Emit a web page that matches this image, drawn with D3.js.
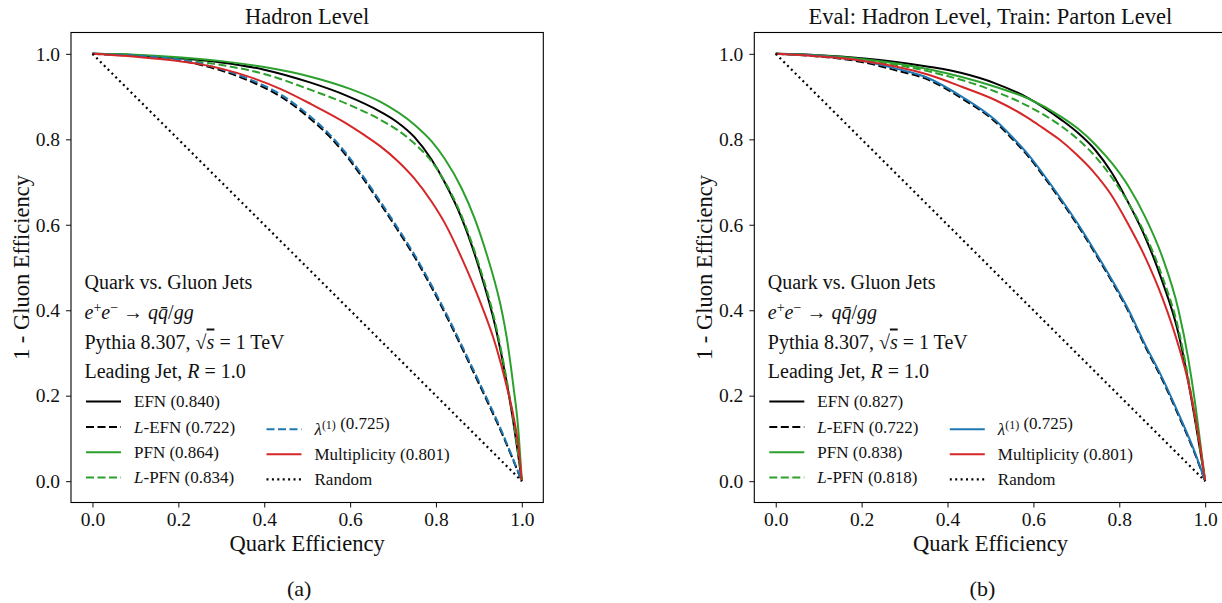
<!DOCTYPE html>
<html>
<head>
<meta charset="utf-8">
<script src="https://cdn.jsdelivr.net/npm/d3@7"></script>
<style>
body { margin: 0; background: #fff; }
svg text { font-family: "Liberation Serif", serif; fill: #111; }
</style>
</head>
<body>
<script>
// ---- data ----
var effTicks = [0, 0.2, 0.4, 0.6, 0.8, 1.0];
var modelNames = ["EFN", "L-EFN", "PFN", "L-PFN", "lambda", "Multiplicity", "Random"];
var aucHadron = [0.840, 0.722, 0.864, 0.834, 0.725, 0.801];
var aucParton = [0.827, 0.722, 0.838, 0.818, 0.725, 0.801];
var infoLines = ["Quark vs. Gluon Jets", "eeqqgg", "Pythia 8.307, sqrt s = 1 TeV", "Leading Jet, R = 1.0"];

// (a) hadron level: [quark eff, 1 - gluon eff]
var hadEFN = [[0,1],[0.1,0.997],[0.2,0.990],[0.3,0.980],[0.4,0.963],[0.51,0.932],[0.59,0.903],[0.67,0.865],[0.71,0.840],[0.75,0.805],[0.79,0.752],[0.82,0.700],[0.86,0.615],[0.9,0.500],[0.94,0.355],[0.964,0.235],[0.98,0.140],[0.991,0.065],[1,0]];
var hadLEFN = [[0,1],[0.1,0.995],[0.2,0.985],[0.28,0.967],[0.36,0.939],[0.44,0.899],[0.51,0.846],[0.55,0.809],[0.59,0.763],[0.63,0.709],[0.67,0.650],[0.71,0.589],[0.75,0.525],[0.79,0.453],[0.83,0.375],[0.87,0.292],[0.91,0.207],[0.95,0.120],[1,0]];
var hadPFN = [[0,1],[0.1,0.998],[0.2,0.992],[0.3,0.983],[0.4,0.969],[0.51,0.946],[0.6,0.918],[0.67,0.888],[0.75,0.834],[0.79,0.795],[0.82,0.755],[0.86,0.685],[0.89,0.615],[0.92,0.525],[0.94,0.455],[0.953,0.400],[0.965,0.335],[0.98,0.225],[0.991,0.130],[1,0]];
var hadLPFN = [[0,1],[0.1,0.996],[0.2,0.987],[0.3,0.974],[0.4,0.953],[0.51,0.915],[0.59,0.884],[0.67,0.846],[0.71,0.822],[0.75,0.790],[0.79,0.748],[0.82,0.702],[0.86,0.620],[0.9,0.507],[0.94,0.362],[0.964,0.241],[0.98,0.145],[0.991,0.068],[1,0]];
var hadLam = [[0,1],[0.1,0.996],[0.2,0.987],[0.28,0.970],[0.36,0.943],[0.44,0.904],[0.51,0.851],[0.55,0.814],[0.59,0.768],[0.63,0.714],[0.67,0.655],[0.71,0.594],[0.75,0.530],[0.79,0.458],[0.83,0.380],[0.87,0.297],[0.91,0.212],[0.95,0.124],[1,0]];
var hadMult = [[0,1],[0.1,0.993],[0.2,0.983],[0.25,0.976],[0.36,0.948],[0.44,0.917],[0.51,0.882],[0.59,0.838],[0.63,0.812],[0.67,0.784],[0.71,0.750],[0.75,0.708],[0.79,0.654],[0.82,0.605],[0.86,0.522],[0.9,0.427],[0.94,0.315],[0.964,0.225],[0.98,0.155],[0.991,0.090],[1,0]];

// (b) evaluated on hadron level, trained on parton level
var parEFN = [[0,1],[0.1,0.997],[0.2,0.990],[0.356,0.970],[0.433,0.955],[0.511,0.931],[0.589,0.896],[0.666,0.845],[0.705,0.814],[0.744,0.775],[0.783,0.721],[0.822,0.650],[0.86,0.572],[0.899,0.471],[0.938,0.345],[0.961,0.232],[0.977,0.140],[0.989,0.068],[1,0]];
var parLEFN = [[0,1],[0.1,0.994],[0.2,0.981],[0.278,0.962],[0.356,0.939],[0.433,0.896],[0.511,0.841],[0.55,0.802],[0.589,0.759],[0.627,0.709],[0.666,0.654],[0.705,0.596],[0.744,0.533],[0.783,0.467],[0.822,0.396],[0.86,0.316],[0.899,0.240],[0.938,0.154],[0.977,0.062],[1,0]];
var parPFN = [[0,1],[0.1,0.996],[0.2,0.988],[0.356,0.964],[0.511,0.923],[0.589,0.895],[0.666,0.852],[0.705,0.824],[0.744,0.788],[0.783,0.744],[0.822,0.689],[0.86,0.619],[0.899,0.528],[0.938,0.400],[0.961,0.285],[0.977,0.180],[0.988,0.095],[1,0]];
var parLPFN = [[0,1],[0.1,0.996],[0.2,0.986],[0.356,0.959],[0.511,0.912],[0.589,0.877],[0.666,0.830],[0.705,0.799],[0.744,0.760],[0.783,0.710],[0.822,0.650],[0.86,0.578],[0.899,0.482],[0.938,0.355],[0.961,0.240],[0.977,0.145],[0.989,0.070],[1,0]];
var parLam = [[0,1],[0.1,0.995],[0.2,0.984],[0.278,0.966],[0.356,0.943],[0.433,0.900],[0.511,0.845],[0.55,0.806],[0.589,0.763],[0.627,0.713],[0.666,0.658],[0.705,0.600],[0.744,0.537],[0.783,0.471],[0.822,0.400],[0.86,0.320],[0.899,0.244],[0.938,0.158],[0.977,0.065],[1,0]];
var parMult = [[0,1],[0.1,0.994],[0.2,0.984],[0.356,0.951],[0.433,0.923],[0.511,0.892],[0.589,0.849],[0.62,0.828],[0.66,0.800],[0.70,0.765],[0.74,0.724],[0.78,0.672],[0.82,0.603],[0.86,0.525],[0.9,0.430],[0.94,0.310],[0.96,0.235],[0.977,0.151],[0.988,0.085],[1,0]];
var randomLine = [[0,1],[1,0]];

// ---- look ----
var BLACK = "#000", GREEN = "#2ca02c", BLUE = "#1f77b4", RED = "#d62728";
var DASH = "8,3.5", DOT = "2,3.4";

var svg = d3.select("body").append("svg")
    .attr("width", 1222).attr("height", 603);

var panels = [
  { left: 71, title: "Hadron Level", caption: "(a)", auc: aucHadron,
    curves: [hadEFN, hadLEFN, hadPFN, hadLPFN, hadLam, hadMult, randomLine], lamDash: DASH },
  { left: 754.3, title: "Eval: Hadron Level, Train: Parton Level", caption: "(b)", auc: aucParton,
    curves: [parEFN, parLEFN, parPFN, parLPFN, parLam, parMult, randomLine], lamDash: null }
];

var plotTop = 32.5, pw = 472.3, ph = 470;

function addLabel(t, i, auc) {
  // legend text with the math bits in italics
  var name = modelNames[i];
  if (name == "L-EFN" || name == "L-PFN") {
    t.append("tspan").style("font-style", "italic").text("L");
    t.append("tspan").text(name.slice(1));
  } else if (name == "lambda") {
    t.append("tspan").style("font-style", "italic").text("\u03bb");
    t.append("tspan").attr("dy", -6).style("font-size", "12px").text("(1)");
    t.append("tspan").attr("dy", 6).text("");
  } else {
    t.append("tspan").text(name);
  }
  if (auc != null) t.append("tspan").text(" (" + auc.toFixed(3) + ")");
}

panels.forEach(function(p) {
  var g = svg.append("g").attr("transform", "translate(" + p.left + "," + plotTop + ")");
  var x = d3.scaleLinear().domain([-0.05, 1.05]).range([0, pw]);
  var y = d3.scaleLinear().domain([-0.05, 1.05]).range([ph, 0]);

  // axes
  var xa = g.append("g").attr("transform", "translate(0," + ph + ")")
    .call(d3.axisBottom(x).tickValues(effTicks).tickFormat(d3.format(".1f"))
      .tickSize(5).tickSizeOuter(0).tickPadding(4.6));
  var ya = g.append("g")
    .call(d3.axisLeft(y).tickValues(effTicks).tickFormat(d3.format(".1f"))
      .tickSize(5).tickSizeOuter(0).tickPadding(6));
  [xa, ya].forEach(function(a) {
    a.select(".domain").remove();
    a.selectAll("line").attr("stroke", "#222").attr("stroke-width", 1.1);
    a.selectAll("text").style("font-family", "Liberation Serif").style("font-size", "19.5px").attr("fill", "#111");
  });

  // curves
  var line = d3.line().x(function(d) { return x(d[0]); }).y(function(d) { return y(d[1]); })
    .curve(d3.curveMonotoneX);
  var styles = [
    [BLACK, null], [BLACK, DASH], [GREEN, null], [GREEN, DASH],
    [BLUE, p.lamDash], [RED, null], [BLACK, DOT]
  ];
  p.curves.forEach(function(c, i) {
    g.append("path").datum(c).attr("d", line)
      .attr("fill", "none")
      .attr("stroke", styles[i][0])
      .attr("stroke-width", i == 6 ? 2.2 : 2)
      .attr("stroke-dasharray", styles[i][1]);
  });

  // frame
  g.append("rect").attr("width", pw).attr("height", ph)
    .attr("fill", "none").attr("stroke", "#000").attr("stroke-width", 1.1);

  // titles and labels
  g.append("text").attr("x", pw / 2).attr("y", 24 - plotTop).attr("text-anchor", "middle")
    .style("font-size", "22.5px").text(p.title);
  g.append("text").attr("x", pw / 2).attr("y", 551 - plotTop).attr("text-anchor", "middle")
    .style("font-size", "22.5px").text("Quark Efficiency");
  svg.append("text").attr("transform", "translate(" + (p.left - 42.5) + ",267.5) rotate(-90)")
    .attr("text-anchor", "middle").style("font-size", "22.5px").text("1 - Gluon Efficiency");
  svg.append("text").attr("x", p.left + pw / 2 - 8).attr("y", 596).attr("text-anchor", "middle")
    .style("font-size", "22px").text(p.caption);

  // info block
  var info = g.append("g").attr("transform", "translate(13.5,0)").style("font-size", "20px");
  var base = [289, 319.3, 348.5, 378.3];
  info.append("text").attr("y", base[0] - plotTop).text(infoLines[0]);
  var t2 = info.append("text").attr("y", base[1] - plotTop);
  t2.append("tspan").style("font-style", "italic").text("e");
  t2.append("tspan").attr("dy", -7).style("font-size", "14px").text("+");
  t2.append("tspan").attr("dy", 7).style("font-style", "italic").text("e");
  t2.append("tspan").attr("dy", -7).style("font-size", "14px").text("\u2212");
  t2.append("tspan").attr("dy", 7).text(" \u2192 ");
  t2.append("tspan").style("font-style", "italic").text("q");
  t2.append("tspan").style("font-style", "italic").text("q\u0304");
  t2.append("tspan").text("/");
  t2.append("tspan").style("font-style", "italic").text("gg");
  var t3 = info.append("text").attr("y", base[2] - plotTop);
  t3.append("tspan").text("Pythia 8.307, \u221a");
  t3.append("tspan").style("font-style", "italic").style("text-decoration", "overline").text("s");
  t3.append("tspan").text(" = 1 TeV");
  var t4 = info.append("text").attr("y", base[3] - plotTop);
  t4.append("tspan").text("Leading Jet, ");
  t4.append("tspan").style("font-style", "italic").text("R");
  t4.append("tspan").text(" = 1.0");

  // legend: two columns
  var cols = [
    { items: [0, 1, 2, 3], x: 15, y0: 401.6, step: 25.3 },
    { items: [4, 5, 6], x: 195.5, y0: 429.3, step: 25 }
  ];
  cols.forEach(function(col) {
    col.items.forEach(function(i, k) {
      var cy = col.y0 + k * col.step - plotTop;
      g.append("line").attr("x1", col.x).attr("x2", col.x + 35).attr("y1", cy).attr("y2", cy)
        .attr("stroke", styles[i][0]).attr("stroke-width", i == 6 ? 2.2 : 2)
        .attr("stroke-dasharray", styles[i][1]);
      var t = g.append("text").attr("x", col.x + 48).attr("y", cy + 5.6).style("font-size", "17px");
      addLabel(t, i, i < 6 ? p.auc[i] : null);
    });
  });
});
</script>
</body>
</html>
